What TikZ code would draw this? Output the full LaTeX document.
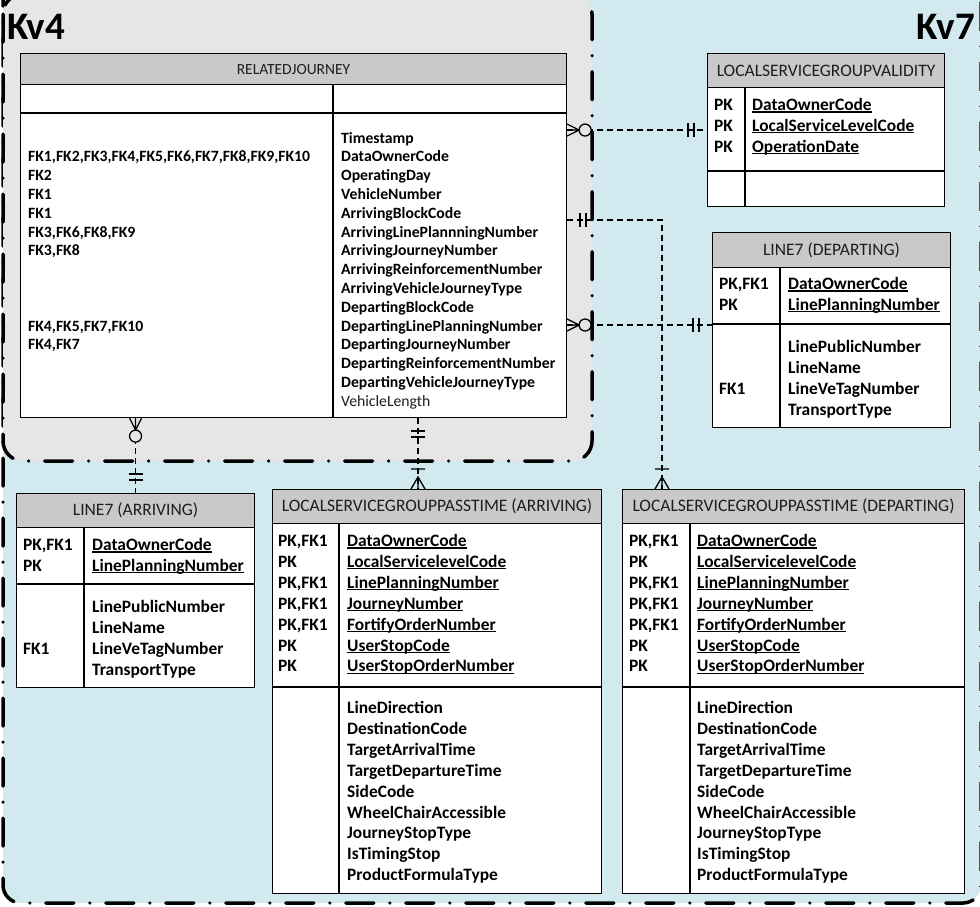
\documentclass[tikz,border=0pt]{standalone}
\usepackage{fontspec}
\setmainfont{Carlito}
\usetikzlibrary{calc}

\definecolor{kvblue}{HTML}{D2E9EF}
\definecolor{kvgray}{HTML}{E6E6E6}
\definecolor{hdrgray}{HTML}{C9C9C9}
\definecolor{txtgray}{HTML}{1E1E1E}

% underlined key name
\newcommand{\ukey}[1]{\setbox0\hbox{#1}\rlap{\rule[-2pt]{\wd0}{1.1pt}}\box0}

\tikzset{
  kvborder/.style={line width=3.5pt, line cap=round, dash pattern=on 28pt off 16pt on 0pt off 16pt},
  kvlabel/.style={font=\fontsize{39}{42}\selectfont\bfseries, inner sep=0pt},
  tbl/.style={draw, line width=1.1pt, fill=white, anchor=north west, inner sep=0pt},
  hdr/.style={tbl, fill=hdrgray, text=txtgray, font=\fontsize{17.5}{20}\selectfont},
  tline/.style={line width=1.1pt},
  rjtext/.style={anchor=north west, align=left, inner sep=0pt, font=\fontsize{15.7}{18.8}\selectfont\bfseries},
  coltext/.style={anchor=north west, align=left, inner sep=0pt, font=\fontsize{17.4}{20.9}\selectfont\bfseries},
  conn/.style={line width=1.3pt, dash pattern=on 6pt off 4pt},
  erline/.style={line width=1.3pt, solid},
  pics/zeromany/.style={code={
    \draw[erline] (0,6) -- (12,0) -- (0,-6) (0,0) -- (12,0);
    \draw[erline, fill=kvgray] (18,0) circle[radius=6pt];
  }},
  pics/onlyone/.style={code={
    \draw[erline] (13,-7) -- (13,7) (19,-7) -- (19,7);
  }},
  pics/onemany/.style={code={
    \draw[erline] (0,7) -- (12,0) -- (0,-7) (0,0) -- (12,0) (20,-7) -- (20,7);
  }}
}

\begin{document}
\begin{tikzpicture}[x=1pt, y=-1pt]
  \useasboundingbox (0,0) rectangle (980,906);
  \clip (0,0) rectangle (980,906);
  % Kv7 and Kv4 areas
  \draw[kvborder, fill=kvblue, rounded corners=18pt] (3,-40) rectangle (981,903);
  \draw[kvborder, fill=kvgray, rounded corners=20pt] (3,-6) rectangle (592,461);
  \node[kvlabel, anchor=west] (kv4) at (7,27) {Kv4};
  \node[kvlabel, anchor=east] (kv7) at (975,27) {Kv7};

  % RELATEDJOURNEY
  \node[tbl, minimum width=546pt, minimum height=364pt] (rj) at (20,53) {};
  \node[hdr, font=\fontsize{15.5}{18}\selectfont, minimum width=546pt, minimum height=31pt] (rjhead) at (20,53) {RELATEDJOURNEY};
  \draw[tline] (20,113) -- (566,113) (333,84) -- (333,417);
  \node[rjtext] (rjkeys) at (28,129.7) {\strut\\FK1,FK2,FK3,FK4,FK5,FK6,FK7,FK8,FK9,FK10\\FK2\\FK1\\FK1\\FK3,FK6,FK8,FK9\\FK3,FK8\\\mbox{}\\\mbox{}\\\mbox{}\\FK4,FK5,FK7,FK10\\FK4,FK7};
  \node[rjtext] (rjattr) at (341,129.7) {\strut Timestamp\\DataOwnerCode\\OperatingDay\\VehicleNumber\\ArrivingBlockCode\\ArrivingLinePlannningNumber\\ArrivingJourneyNumber\\ArrivingReinforcementNumber\\ArrivingVehicleJourneyType\\DepartingBlockCode\\DepartingLinePlanningNumber\\DepartingJourneyNumber\\DepartingReinforcementNumber\\DepartingVehicleJourneyType\\{\mdseries\color{txtgray}VehicleLength}};

  % LOCALSERVICEGROUPVALIDITY
  \node[tbl, minimum width=237pt, minimum height=153pt] (lsgv) at (707,53) {};
  \node[hdr, minimum width=237pt, minimum height=34pt] (lsgvhead) at (707,53) {LOCALSERVICEGROUPVALIDITY};
  \draw[tline] (707,171) -- (944,171) (745,87) -- (745,206);
  \node[coltext] (lsgvkeys) at (714,95.7) {\strut PK\\PK\\PK};
  \node[coltext] (lsgvattr) at (752,95.7) {\strut\ukey{DataOwnerCode}\\\ukey{LocalServiceLevelCode}\\\ukey{OperationDate}};

  % LINE7 (DEPARTING)
  \node[tbl, minimum width=238pt, minimum height=195pt] (l7d) at (712,232) {};
  \node[hdr, minimum width=238pt, minimum height=35pt] (l7dhead) at (712,232) {LINE7 (DEPARTING)};
  \draw[tline] (712,324) -- (950,324) (780,267) -- (780,427);
  \node[coltext] (l7dkeys) at (719,274.7) {\strut PK,FK1\\PK};
  \node[coltext] (l7dattr) at (788,274.7) {\strut\ukey{DataOwnerCode}\\\ukey{LinePlanningNumber}};
  \node[coltext] (l7dfk) at (719,337.7) {\strut\\\mbox{}\\FK1};
  \node[coltext] (l7dcols) at (788,337.7) {\strut LinePublicNumber\\LineName\\LineVeTagNumber\\TransportType};

  % LINE7 (ARRIVING)
  \node[tbl, minimum width=238pt, minimum height=194pt] (l7a) at (16,493) {};
  \node[hdr, minimum width=238pt, minimum height=34pt] (l7ahead) at (16,493) {LINE7 (ARRIVING)};
  \draw[tline] (16,584) -- (254,584) (84,527) -- (84,687);
  \node[coltext] (l7akeys) at (23,535.7) {\strut PK,FK1\\PK};
  \node[coltext] (l7aattr) at (92,535.7) {\strut\ukey{DataOwnerCode}\\\ukey{LinePlanningNumber}};
  \node[coltext] (l7afk) at (23,597.7) {\strut\\\mbox{}\\FK1};
  \node[coltext] (l7acols) at (92,597.7) {\strut LinePublicNumber\\LineName\\LineVeTagNumber\\TransportType};

  % LOCALSERVICEGROUPPASSTIME (ARRIVING)
  \node[tbl, minimum width=329pt, minimum height=404pt] (lsga) at (272,489) {};
  \node[hdr, minimum width=329pt, minimum height=34pt] (lsgahead) at (272,489) {LOCALSERVICEGROUPPASSTIME (ARRIVING)};
  \draw[tline] (272,687) -- (601,687) (339,523) -- (339,893);
  \node[coltext] (lsgakeys) at (278,531.7) {\strut PK,FK1\\PK\\PK,FK1\\PK,FK1\\PK,FK1\\PK\\PK};
  \node[coltext] (lsgaattr) at (347,531.7) {\strut\ukey{DataOwnerCode}\\\ukey{LocalServicelevelCode}\\\ukey{LinePlanningNumber}\\\ukey{JourneyNumber}\\\ukey{FortifyOrderNumber}\\\ukey{UserStopCode}\\\ukey{UserStopOrderNumber}};
  \node[coltext] (lsgacols) at (347,698.7) {\strut LineDirection\\DestinationCode\\TargetArrivalTime\\TargetDepartureTime\\SideCode\\WheelChairAccessible\\JourneyStopType\\IsTimingStop\\ProductFormulaType};

  % LOCALSERVICEGROUPPASSTIME (DEPARTING)
  \node[tbl, minimum width=342pt, minimum height=404pt] (lsgd) at (622,489) {};
  \node[hdr, minimum width=342pt, minimum height=34pt] (lsgdhead) at (622,489) {LOCALSERVICEGROUPPASSTIME (DEPARTING)};
  \draw[tline] (622,687) -- (964,687) (690,523) -- (690,893);
  \node[coltext] (lsgdkeys) at (629,531.7) {\strut PK,FK1\\PK\\PK,FK1\\PK,FK1\\PK,FK1\\PK\\PK};
  \node[coltext] (lsgdattr) at (697,531.7) {\strut\ukey{DataOwnerCode}\\\ukey{LocalServicelevelCode}\\\ukey{LinePlanningNumber}\\\ukey{JourneyNumber}\\\ukey{FortifyOrderNumber}\\\ukey{UserStopCode}\\\ukey{UserStopOrderNumber}};
  \node[coltext] (lsgdcols) at (697,698.7) {\strut LineDirection\\DestinationCode\\TargetArrivalTime\\TargetDepartureTime\\SideCode\\WheelChairAccessible\\JourneyStopType\\IsTimingStop\\ProductFormulaType};

  % Connectors
  \coordinate (lsgain) at ($(lsga.north west)+(146,0)$);
  \coordinate (lsgdin) at ($(lsgd.north west)+(40,0)$);
  \draw[conn] (rj.east |- lsgv.west) -- (lsgv.west);
  \draw[conn] ($(rj.north east)+(0,167)$) -| (lsgdin);
  \draw[conn] ($(rj.north east)+(0,272)$) -- ($(l7d.north west)+(0,93)$);
  \draw[conn] (rj.south -| l7a.north) -- (l7a.north);
  \draw[conn] (rj.south -| lsgain) -- (lsgain);

  % Relationship ends
  \pic at (rj.east |- lsgv.west) {zeromany};
  \pic[rotate=180] at (lsgv.west) {onlyone};
  \pic at ($(rj.north east)+(0,167)$) {onlyone};
  \pic[rotate=90] at (lsgdin) {onemany};
  \pic at ($(rj.north east)+(0,272)$) {zeromany};
  \pic[rotate=180] at ($(l7d.north west)+(0,93)$) {onlyone};
  \pic[rotate=-90] at (rj.south -| l7a.north) {zeromany};
  \pic[rotate=90] at (l7a.north) {onlyone};
  \pic[rotate=-90] at (rj.south -| lsgain) {onlyone};
  \pic[rotate=90] at (lsgain) {onemany};
\end{tikzpicture}
\end{document}
